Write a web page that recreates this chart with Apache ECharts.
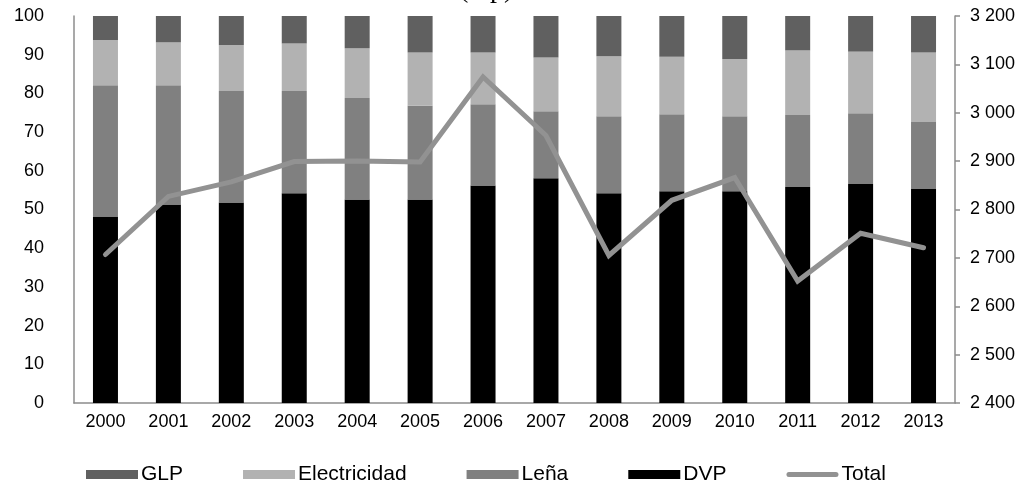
<!DOCTYPE html>
<html>
<head>
<meta charset="utf-8">
<script src="https://cdn.jsdelivr.net/npm/echarts@6/dist/echarts.min.js"></script>
<style>
html,body{margin:0;padding:0;background:#fff;}
#chart{width:1024px;height:487px;}
</style>
</head>
<body>
<div id="chart"></div>
<script>
var years = ['2000','2001','2002','2003','2004','2005','2006','2007','2008','2009','2010','2011','2012','2013'];
var dvp = [48.2, 51.3, 51.8, 54.2, 52.6, 52.6, 56.2, 58.1, 54.2, 54.7, 54.7, 55.8, 56.6, 55.3];
var lena = [33.9, 30.8, 28.8, 26.4, 26.2, 24.2, 21.0, 17.3, 19.9, 19.9, 19.4, 18.6, 18.3, 17.3];
var electricidad = [11.7, 11.1, 11.9, 12.3, 12.9, 13.8, 13.4, 13.9, 15.5, 14.9, 14.8, 16.7, 15.9, 18.0];
var glp = [6.2, 6.8, 7.5, 7.1, 8.3, 9.4, 9.4, 10.7, 10.4, 10.5, 11.1, 8.9, 9.2, 9.4];
var total = [2707, 2827, 2857, 2899, 2900, 2898, 3074, 2953, 2705, 2819, 2866, 2652, 2751, 2721];
var leftTicks = {min: 0, max: 100, interval: 10};
var rightTicks = {min: 2400, max: 3200, interval: 100};

var chart = echarts.init(document.getElementById('chart'), null, {renderer: 'canvas'});
var font = 'Liberation Sans, Arial, sans-serif';
function fmtThousands(v) {
  var s = String(Math.round(v));
  return s.replace(/\B(?=(\d{3})+(?!\d))/g, ' ');
}
var barW = 25;
var lineIcon = 'path://M2.5,0 L49.5,0 A2.5,2.5 0 0 1 49.5,5 L2.5,5 A2.5,2.5 0 0 1 2.5,0 Z';
chart.setOption({
  animation: false,
  backgroundColor: '#ffffff',
  textStyle: {fontFamily: font},
  graphic: [{
    type: 'text',
    left: 459,
    top: -24,
    style: {text: '(ktp)', font: '28px "Liberation Serif", serif', fill: '#000'}
  }],
  grid: {left: 74, right: 69, top: 16, bottom: 84, containLabel: false},
  legend: {
    left: 81,
    top: 459,
    itemWidth: 52,
    itemHeight: 9,
    itemGap: 60,
    textStyle: {fontFamily: font, fontSize: 21, color: '#000', padding: [0, 0, 0, -2]},
    data: [
      {name: 'GLP', icon: 'rect'},
      {name: 'Electricidad', icon: 'rect'},
      {name: 'Leña', icon: 'rect'},
      {name: 'DVP', icon: 'rect'},
      {name: 'Total', icon: lineIcon}
    ]
  },
  xAxis: {
    type: 'category',
    data: years,
    axisLine: {show: true, lineStyle: {color: '#8c8c8c', width: 1.5}},
    axisTick: {show: false},
    axisLabel: {color: '#000', fontSize: 18, fontFamily: font, margin: 10}
  },
  yAxis: [{
    type: 'value',
    min: leftTicks.min, max: leftTicks.max, interval: leftTicks.interval,
    axisLine: {show: true, lineStyle: {color: '#8c8c8c', width: 1.5}},
    axisTick: {show: false},
    splitLine: {show: false},
    axisLabel: {color: '#000', fontSize: 18, fontFamily: font, margin: 30}
  }, {
    type: 'value',
    position: 'right',
    min: rightTicks.min, max: rightTicks.max, interval: rightTicks.interval,
    axisLine: {show: true, lineStyle: {color: '#8c8c8c', width: 1.5}},
    axisTick: {show: true, inside: false, length: 5, lineStyle: {color: '#8c8c8c', width: 1.5}},
    splitLine: {show: false},
    axisLabel: {color: '#000', fontSize: 18, fontFamily: font, margin: 15, formatter: fmtThousands}
  }],
  series: [
    {name: 'DVP', type: 'bar', stack: 's', barWidth: barW, data: dvp,
     itemStyle: {color: '#000000'}},
    {name: 'Leña', type: 'bar', stack: 's', barWidth: barW, data: lena,
     itemStyle: {color: '#808080'}},
    {name: 'Electricidad', type: 'bar', stack: 's', barWidth: barW, data: electricidad,
     itemStyle: {color: '#b2b2b2'}},
    {name: 'GLP', type: 'bar', stack: 's', barWidth: barW, data: glp,
     itemStyle: {color: '#606060'}},
    {name: 'Total', type: 'line', yAxisIndex: 1, data: total,
     symbol: 'none', lineStyle: {color: '#929292', width: 5, cap: 'round', join: 'miter'},
     itemStyle: {color: '#929292'}, z: 5}
  ]
});
</script>
</body>
</html>
